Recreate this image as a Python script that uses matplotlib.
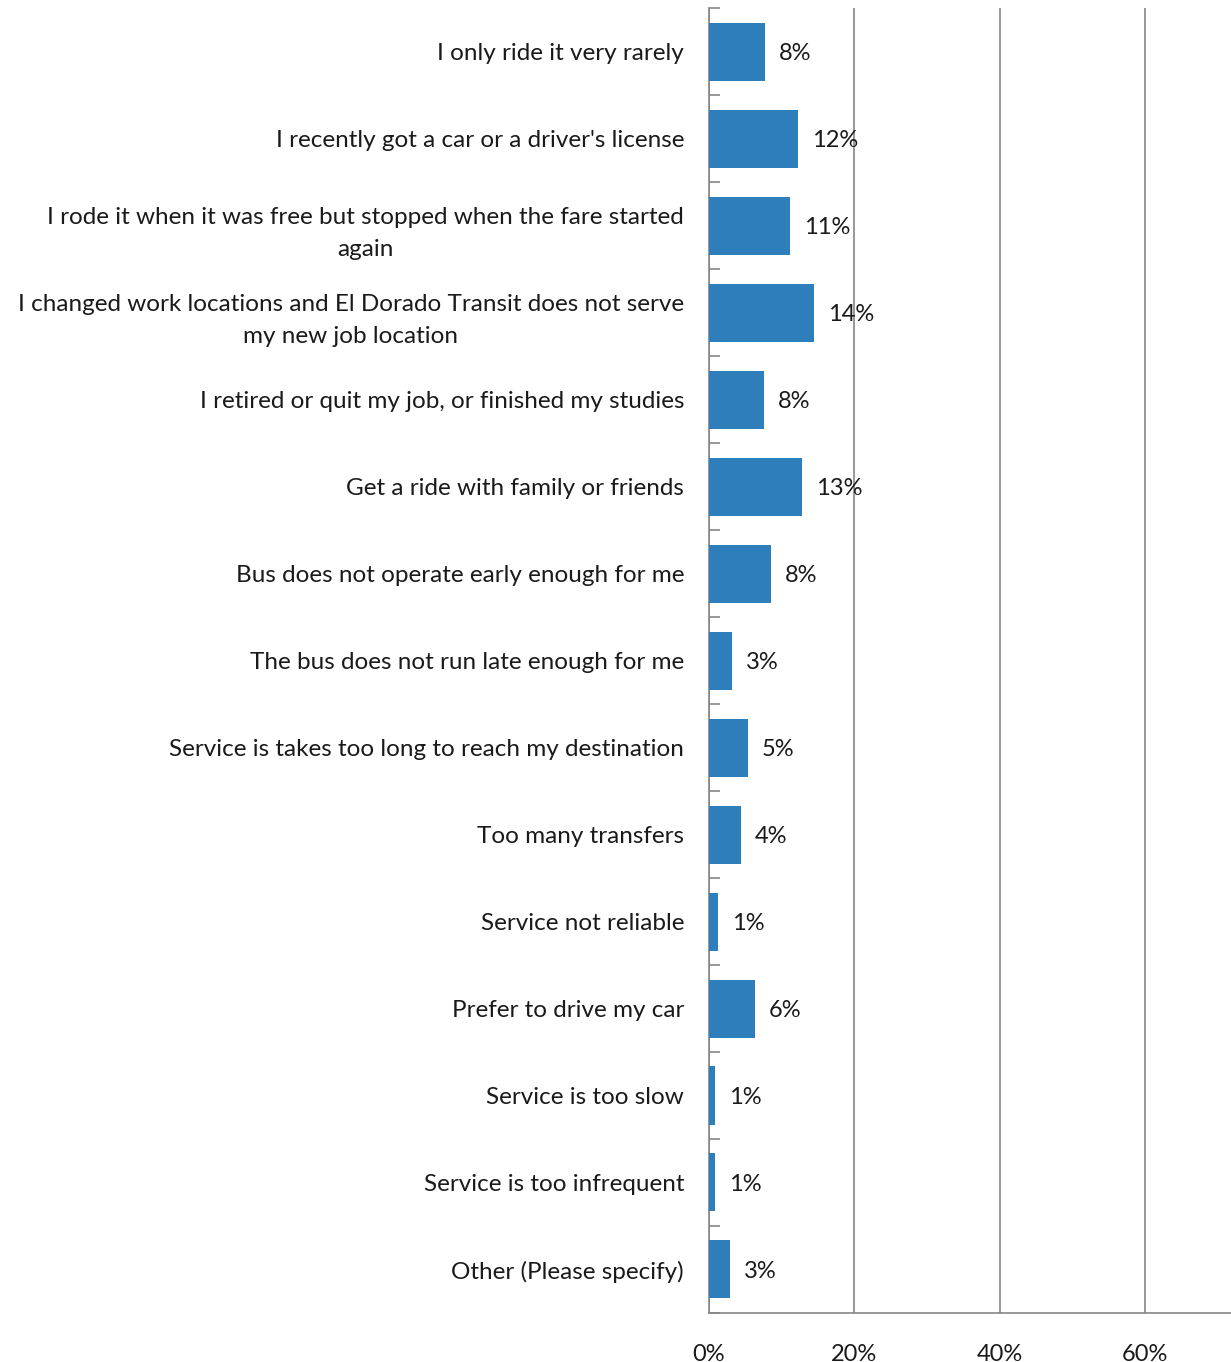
import numpy as np
import matplotlib
matplotlib.use("Agg")
import matplotlib.pyplot as plt

plt.rcParams["font.family"] = ["Lato", "DejaVu Sans"]

categories = [
    "I only ride it very rarely",
    "I recently got a car or a driver's license",
    "I rode it when it was free but stopped when the fare started\nagain",
    "I changed work locations and El Dorado Transit does not serve\nmy new job location",
    "I retired or quit my job, or finished my studies",
    "Get a ride with family or friends",
    "Bus does not operate early enough for me",
    "The bus does not run late enough for me",
    "Service is takes too long to reach my destination",
    "Too many transfers",
    "Service not reliable",
    "Prefer to drive my car",
    "Service is too slow",
    "Service is too infrequent",
    "Other (Please specify)",
]
values = [7.7, 12.3, 11.2, 14.4, 7.6, 12.8, 8.5, 3.2, 5.4, 4.4, 1.2, 6.3, 0.8, 0.8, 2.9]
labels = ["8%", "12%", "11%", "14%", "8%", "13%", "8%", "3%", "5%", "4%", "1%", "6%", "1%", "1%", "3%"]
xticks = [0, 20, 40, 60]

fig = plt.figure(figsize=(12.31, 13.62), dpi=100)
ax = fig.add_axes([0.576, 0.036, 0.424, 0.958])

n = len(categories)
y = np.arange(n)
ax.barh(y, values, height=0.667, color="#2E7EBB", zorder=3)

for yi, v, lab in zip(y, values, labels):
    ax.text(v + 1.9, yi + 0.02, lab, va="center", ha="left", fontsize=17, color="#1a1a1a", zorder=4)

ax.set_ylim(n - 0.5, -0.5)
ax.set_xlim(0, 71.8)

ax.set_yticks(y)
ax.set_yticklabels(categories, fontsize=17.5, color="#1a1a1a", multialignment="center", linespacing=1.65)
ax.tick_params(axis="y", length=0, pad=18)
ax.set_yticks(np.arange(n + 1) - 0.5, minor=True)
ax.tick_params(axis="y", which="minor", direction="in", length=8, width=1.2, color="#868686")

ax.set_xticks(xticks)
ax.set_xticklabels([f"{t}%" for t in xticks], fontsize=17, color="#1a1a1a")
ax.tick_params(axis="x", length=0, pad=22)

ax.grid(axis="x", color="#868686", linewidth=1.2, zorder=0)
for s in ["top", "right"]:
    ax.spines[s].set_visible(False)
ax.spines["left"].set_color("#868686")
ax.spines["left"].set_linewidth(1.2)
ax.spines["bottom"].set_color("#868686")
ax.spines["bottom"].set_linewidth(1.2)

fig.savefig("out.png", dpi=100)
